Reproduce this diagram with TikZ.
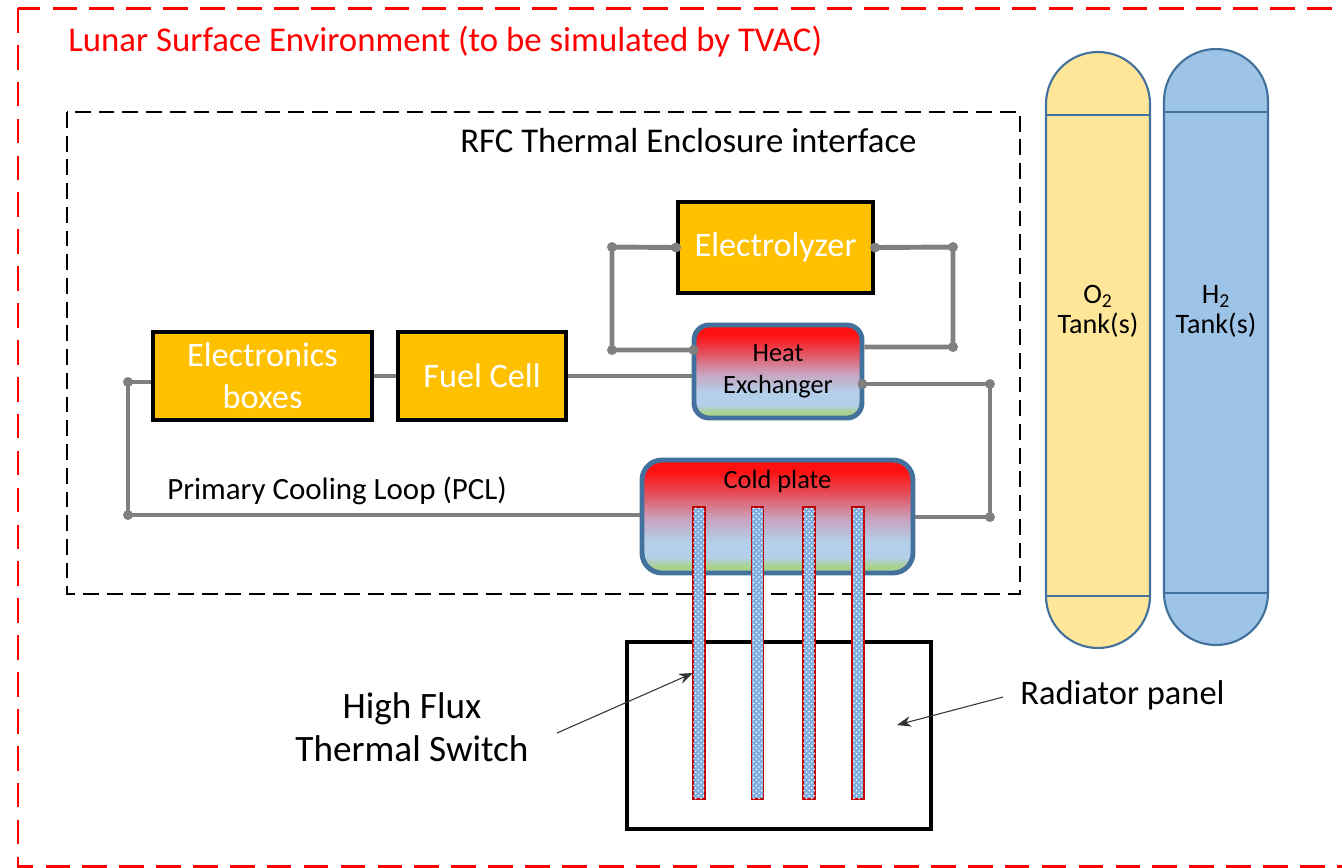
\documentclass[tikz,border=0pt]{standalone}
\usepackage{fontspec}
\setmainfont{Carlito}
\usepackage{xcolor}
\usetikzlibrary{arrows.meta,calc,positioning,patterns}

\definecolor{boxorange}{HTML}{FFC000}
\definecolor{pipegray}{HTML}{808080}
\definecolor{frameblue}{HTML}{41719C}
\definecolor{hotred}{HTML}{FF1010}
\definecolor{rosered}{HTML}{E4505E}
\definecolor{mauve}{HTML}{C9A3BE}
\definecolor{paleblue}{HTML}{B4CFEA}
\definecolor{leafgreen}{HTML}{A9D18E}
\definecolor{oxyfill}{HTML}{FFE699}
\definecolor{hydfill}{HTML}{9DC3E6}
\definecolor{barblue}{HTML}{7FAEE0}
\definecolor{barred}{HTML}{C00000}

\pgfdeclareverticalshading{hxshade}{100bp}{color(0bp)=(leafgreen); color(28bp)=(leafgreen); color(32bp)=(paleblue); color(39bp)=(paleblue); color(49bp)=(mauve); color(60bp)=(rosered); color(70bp)=(hotred); color(100bp)=(hotred)}

\tikzset{
  unitbox/.style={draw=black, line width=2.3pt, fill=boxorange, text=white,
    inner sep=0pt, align=center, font=\fontsize{19.5}{24}\selectfont},
  hxbox/.style={draw=frameblue, line width=2.8pt, rounded corners=0.3cm,
    shading=hxshade, inner sep=0pt, align=center},
  pipe/.style={draw=pipegray, line width=2.8pt},
  joint/.style={fill=pipegray},
  tank/.style={draw=frameblue, line width=1.2pt},
  swbar/.style={draw=barred, line width=0.6pt, fill=barblue,
    postaction={pattern=crosshatch dots, pattern color=white}},
  pointer/.style={draw=black!80, line width=0.6pt, -{Stealth[length=8pt,width=6pt]}},
  lbl/.style={inner sep=0pt, align=center}
}

\begin{document}
\begin{tikzpicture}[x=0.02cm,y=-0.02cm,>=Stealth]
    \clip (0,0) rectangle (1342,867);

    % outer environment and enclosure
    \draw[red, line width=1.7pt, dash pattern=on 14pt off 7pt] (18,8) rectangle (1348,866);
    \node[lbl, anchor=west, text=red, font=\fontsize{19.8}{22}\selectfont] (env) at (68,42) {Lunar Surface Environment (to be simulated by TVAC)};
    \draw[black, line width=1.1pt, dash pattern=on 9pt off 4.5pt] (67,112) rectangle (1020,594);
    \node[lbl, anchor=west, font=\fontsize{19.8}{22}\selectfont] (rfc) at (460,141) {RFC Thermal Enclosure interface};

    % boxes
    \node[unitbox, minimum width=3.9cm, minimum height=1.82cm] (elyz) at (775.5,247.5) {Electrolyzer};
    \node[unitbox, minimum width=4.38cm, minimum height=1.76cm] (elec) at (262.5,376) {Electronics\\boxes};
    \node[unitbox, minimum width=3.36cm, minimum height=1.76cm] (fuel) at (482,376) {Fuel Cell};
    \node[hxbox, minimum width=3.36cm, minimum height=1.86cm, font=\fontsize{15}{18.2}\selectfont] (hx) at (778,371.5) {Heat\\Exchanger};
    \node[hxbox, rounded corners=0.4cm, minimum width=5.42cm, minimum height=2.26cm] (cold) at (777.5,516.5) {};
    \node[lbl, below=0.25cm of cold.north, font=\fontsize{15}{17}\selectfont] (coldtxt) {Cold plate};
    \draw[black, line width=2.8pt] (627,642) rectangle (931,829);

    % pipe corners
    \coordinate (pcl1) at (128,382);
    \coordinate (pcl2) at (128,515);
    \coordinate (ret1) at (990,384);
    \coordinate (ret2) at (990,517);
    \coordinate (ely1) at (612,247);
    \coordinate (ely2) at (612,350);
    \coordinate (ely3) at (953,247);
    \coordinate (ely4) at (953,347);

    % primary cooling loop
    \draw[pipe] (pcl1) -- (pcl1 -| elec.west);
    \draw[pipe] (pcl1) -- (pcl2) -- (pcl2 -| cold.west);
    \draw[pipe] (elec.east) -- (fuel.west);
    \draw[pipe] (fuel.east) -- (fuel.east -| hx.west);
    \draw[pipe] (ret1 -| hx.east) -- (ret1) -- (ret2) -- (ret2 -| cold.east);
    \node[lbl, anchor=west, font=\fontsize{17.6}{20}\selectfont] (pcl) at (167,491) {Primary Cooling Loop (PCL)};

    % electrolyzer loop
    \draw[pipe] (elyz.west) -- (ely1) -- (ely2) -- (ely2 -| hx.west);
    \draw[pipe] (elyz.east) -- (ely3) -- (ely4) -- (ely4 -| hx.east);

    \foreach \p in {pcl1,pcl2,ret1,ret2,ely1,ely2,ely3,ely4}
        \fill[joint] (\p) circle (0.1cm);
    \fill[joint] (elyz.west) circle (0.1cm);
    \fill[joint] (elyz.east) circle (0.1cm);
    \fill[joint] ($(ely2 -| hx.west)+(0.04cm,0)$) circle (0.1cm);
    \fill[joint] ($(ret1 -| hx.east)+(-0.04cm,0)$) circle (0.1cm);

    % thermal switch bars
    \foreach \bx in {699,757.5,809,858}
        \draw[swbar] (\bx-6,507) rectangle (\bx+6,799);

    % tanks
    \draw[tank, fill=oxyfill] (1046,596) -- (1046,104) arc[start angle=180, end angle=360, radius=52] -- (1150,596) arc[start angle=0, end angle=180, radius=52] -- cycle;
    \draw[tank] (1046,115) -- (1150,115) (1046,596) -- (1150,596);
    \draw[tank, fill=hydfill] (1164,593) -- (1164,101) arc[start angle=180, end angle=360, radius=52] -- (1268,593) arc[start angle=0, end angle=180, radius=52] -- cycle;
    \draw[tank] (1164,112) -- (1268,112) (1164,593) -- (1268,593);
    \node[lbl, font=\fontsize{16}{17}\selectfont] (oxy) at (1098,311) {O\textsubscript{2}\\Tank(s)};
    \node[lbl, font=\fontsize{16}{17}\selectfont] (hyd) at (1216,311) {H\textsubscript{2}\\Tank(s)};

    % callouts
    \node[lbl, font=\fontsize{21.2}{24.5}\selectfont] (hfts) at (412,727) {High Flux\\Thermal Switch};
    \node[lbl, anchor=west, font=\fontsize{19.6}{22}\selectfont] (rad) at (1020,695) {Radiator panel};
    \coordinate (hftsTail) at (557,733);
    \coordinate (hftsHead) at (693,673);
    \coordinate (radTail) at (1003,697);
    \coordinate (radHead) at (897,725);
    \draw[pointer] (hftsTail) -- (hftsHead);
    \draw[pointer] (radTail) -- (radHead);
\end{tikzpicture}
\end{document}
